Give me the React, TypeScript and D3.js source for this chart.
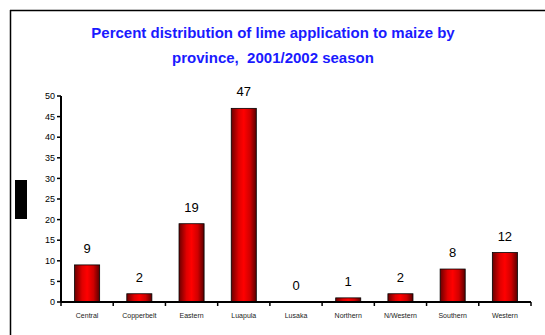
import React from "react";
import * as d3 from "d3";

const categories = ["Central", "Copperbelt", "Eastern", "Luapula", "Lusaka", "Northern", "N/Western", "Southern", "Western"];
const values = [9, 2, 19, 47, 0, 1, 2, 8, 12];
const yTicks = [0, 5, 10, 15, 20, 25, 30, 35, 40, 45, 50];
const titleLines = ["Percent distribution of lime application to maize by", "province,  2001/2002 season"];

export default function App() {
  const W = 545, H = 335;
  const x0 = 61, x1 = 531, yTop = 96, yBot = 302;
  const x = d3.scaleBand<string>().domain(categories).range([x0, x1]).paddingInner(0.52).paddingOuter(0.26);
  const y = d3.scaleLinear().domain([0, 50]).range([yBot, yTop]);
  const step = (x1 - x0) / categories.length;
  return (
    <div style={{ position: "absolute", left: 0, top: 0 }}>
      <svg width={W} height={H} style={{ display: "block" }} fontFamily="'Liberation Sans', Arial, sans-serif">
        <defs>
          <linearGradient id="barGrad" x1="0" x2="1" y1="0" y2="0">
            <stop offset="0" stopColor="#6a0000" />
            <stop offset="0.3" stopColor="#e00000" />
            <stop offset="0.5" stopColor="#ff0000" />
            <stop offset="0.75" stopColor="#d00000" />
            <stop offset="1" stopColor="#5a0000" />
          </linearGradient>
        </defs>
        <rect x={0} y={0} width={W} height={H} fill="#fff" />
        <line x1={10} y1={10.5} x2={W} y2={10.5} stroke="#000" strokeWidth={1.5} />
        <line x1={10.5} y1={10} x2={10.5} y2={H} stroke="#000" strokeWidth={1.5} />
        {titleLines.map((t, i) => (
          <text key={i} x={273} y={38 + i * 25} textAnchor="middle" fill="#1a1aff" fontWeight="bold" fontSize={15} style={{ whiteSpace: "pre" }}>{t}</text>
        ))}
        <rect x={15} y={180} width={12} height={39} fill="#000" />
        {categories.map((c, i) => (
          <rect key={c} x={x(c)} y={y(values[i])} width={x.bandwidth()} height={yBot - y(values[i])}
            fill="url(#barGrad)" stroke="#000" strokeWidth={0.8} />
        ))}
        {categories.map((c, i) => (
          <text key={c + "v"} x={(x(c) as number) + x.bandwidth() / 2} y={y(values[i]) - 12} textAnchor="middle" fontSize={13} fill="#000">{values[i]}</text>
        ))}
        <line x1={x0} y1={yTop} x2={x0} y2={yBot} stroke="#000" strokeWidth={2} />
        {yTicks.map(t => (
          <g key={t}>
            <line x1={x0 - 4} x2={x0} y1={y(t)} y2={y(t)} stroke="#000" strokeWidth={1.5} />
            <text x={x0 - 6} y={y(t)} dy="0.35em" textAnchor="end" fontSize={9} fill="#000">{t}</text>
          </g>
        ))}
        <line x1={x0} y1={yBot} x2={x1} y2={yBot} stroke="#000" strokeWidth={2} />
        {d3.range(categories.length + 1).map(i => (
          <line key={i} x1={x0 + i * step} x2={x0 + i * step} y1={yBot} y2={yBot + 4} stroke="#000" strokeWidth={1.5} />
        ))}
        {categories.map(c => (
          <text key={c + "l"} x={(x(c) as number) + x.bandwidth() / 2} y={318} textAnchor="middle" fontSize={7} fill="#222">{c}</text>
        ))}
      </svg>
    </div>
  );
}
